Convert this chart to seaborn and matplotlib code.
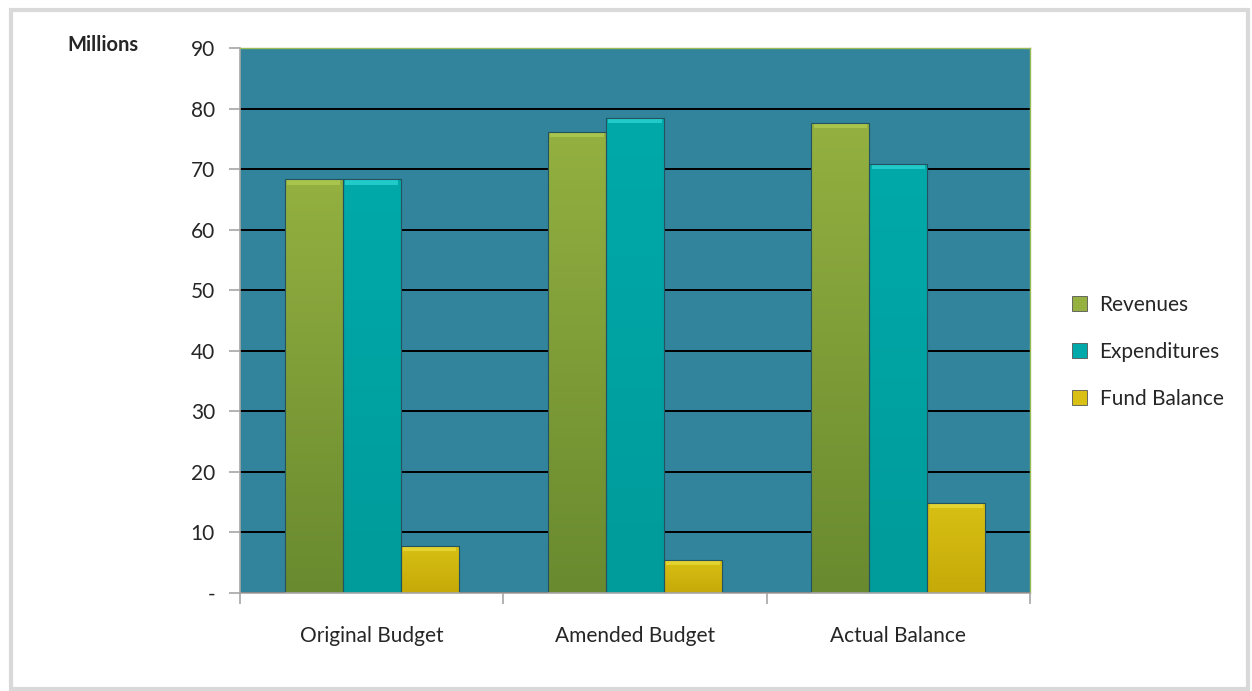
import pandas as pd
import numpy as np
import matplotlib
matplotlib.use("Agg")
import matplotlib.pyplot as plt
import seaborn as sns
from matplotlib.patches import Rectangle
from matplotlib.colors import to_rgb

# datos (millones)
categorias = ["Original Budget", "Amended Budget", "Actual Balance"]
series = ["Revenues", "Expenditures", "Fund Balance"]
revenues = [68.3, 76.2, 77.7]
expenditures = [68.3, 78.5, 70.9]
fund_balance = [7.8, 5.5, 14.9]
ticks_y = [0, 10, 20, 30, 40, 50, 60, 70, 80, 90]
etiquetas_y = ["-", "10", "20", "30", "40", "50", "60", "70", "80", "90"]

colores = ["#7d9b36", "#00a3a3", "#cdb40a"]
# degradado (arriba, abajo) y brillo superior de cada serie
degradados = [("#93b040", "#698a2f"), ("#00a9a9", "#009b9b"), ("#d8c014", "#c6aa08")]
brillos = ["#bcd65a", "#3ee6e6", "#f0e64a"]
fondo = "#31849b"

df = pd.DataFrame({
    "categoria": categorias * 3,
    "serie": [s for s in series for _ in categorias],
    "valor": revenues + expenditures + fund_balance,
})

sns.set_theme(style="white")
plt.rcParams["font.family"] = ["Lato", "DejaVu Sans"]

fig = plt.figure(figsize=(12.52, 6.91), dpi=100)
ax = fig.add_axes([0.1917, 0.1418, 0.6310, 0.7887])
ax.set_facecolor(fondo)

sns.barplot(data=df, x="categoria", y="valor", hue="serie", order=categorias,
            hue_order=series, palette=colores, width=0.66, saturation=1,
            edgecolor="#1f4f5c", linewidth=0.6, ax=ax, legend=False)

# degradado vertical y brillo en la parte superior de cada barra
for cont, (arriba, abajo), brillo in zip(ax.containers, degradados, brillos):
    grad = np.linspace(0, 1, 64)[:, None, None]
    img = (1 - grad) * np.array(to_rgb(arriba)) + grad * np.array(to_rgb(abajo))
    for barra in cont.patches:
        x0, w, h = barra.get_x(), barra.get_width(), barra.get_height()
        im = ax.imshow(img, extent=(x0, x0 + w, 0, h), aspect="auto", zorder=barra.get_zorder() + 0.1,
                       interpolation="bilinear", origin="upper")
        im.set_clip_path(barra)
        ax.add_patch(Rectangle((x0 + w * 0.04, h - 0.9), w * 0.92, 0.9, facecolor=brillo,
                               edgecolor="none", alpha=0.55, zorder=barra.get_zorder() + 0.2))
        ax.add_patch(Rectangle((x0, 0), w, h, facecolor="none", edgecolor="#24535f",
                               linewidth=0.8, zorder=barra.get_zorder() + 0.3))

ax.set_ylim(0, 90)
ax.set_xlim(-0.5, 2.5)
ax.set_yticks(ticks_y)
ax.set_yticklabels(etiquetas_y, fontsize=15)
ax.yaxis.grid(True, color="black", linewidth=1.4)
ax.set_axisbelow(True)
ax.set_xlabel("")
ax.set_ylabel("")

ax.tick_params(axis="y", left=True, length=8, width=1.2, color="#a6a6a6", pad=10)
ax.tick_params(axis="x", bottom=False, labelsize=15, pad=18)
ax.set_xticks([-0.5, 0.5, 1.5, 2.5], minor=True)
ax.tick_params(axis="x", which="minor", bottom=True, length=8, width=1.2, color="#a6a6a6")

for lado in ["left", "bottom"]:
    ax.spines[lado].set_color("#a6a6a6")
    ax.spines[lado].set_linewidth(1.2)
for lado in ["top", "right"]:
    ax.spines[lado].set_color("#9bbb59")
    ax.spines[lado].set_linewidth(1.0)

manejadores = [Rectangle((0, 0), 1, 1, facecolor=c, edgecolor="#555555", linewidth=0.6)
               for c, _ in degradados]
fig.legend(manejadores, series, loc="center left", bbox_to_anchor=(1062 / 1252, 1 - 352 / 691),
           frameon=False, fontsize=15, handlelength=0.7, handleheight=0.7, labelspacing=1.3,
           handletextpad=0.6, borderpad=0)

fig.text(0.054, 0.935, "Millions", fontsize=14.5, fontweight="bold", ha="left", va="center")

# marco gris alrededor de la figura
fig.patches.append(Rectangle((0.009, 0.003), 0.988, 0.983, transform=fig.transFigure,
                             fill=False, edgecolor="#d9d9d9", linewidth=3))

fig.savefig("out.png", dpi=100, facecolor="white")
